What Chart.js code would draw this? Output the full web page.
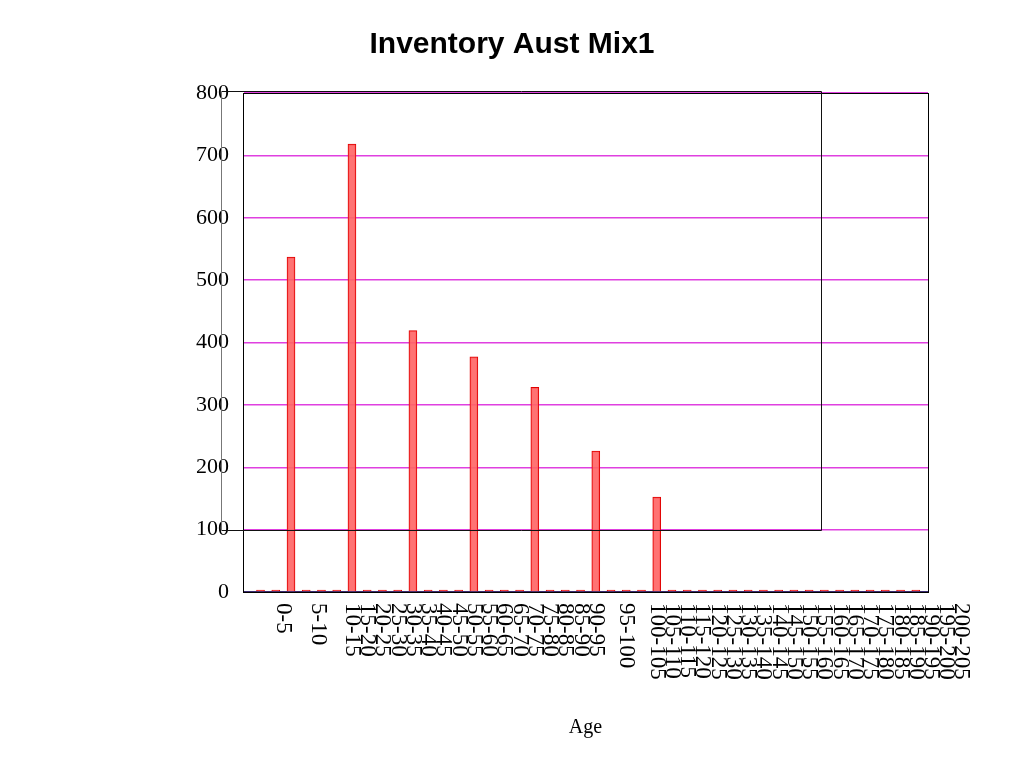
<!DOCTYPE html>
<html>
<head>
<meta charset="utf-8">
<script src="https://cdn.jsdelivr.net/npm/chart.js@4"></script>
<style>
  body { margin: 0; background: #fff; }
  #wrap { width: 1024px; height: 768px; }
</style>
</head>
<body>
<div id="wrap"><canvas id="invChart" width="1024" height="768"></canvas></div>
<script>
// bar positions along the age axis and inventory counts
const barX = [1, 2, 3, 4, 5, 6, 7, 8, 9, 10, 11, 12, 13, 14, 15, 16, 17, 18, 19, 20, 21, 22,
  23, 24, 25, 26, 27, 28, 29, 30, 31, 32, 33, 34, 35, 36, 37, 38, 39, 40, 41, 42, 43, 44];
const counts = [0, 0, 537, 0, 0, 0, 718, 0, 0, 0, 419, 0, 0, 0, 377, 0, 0, 0, 328, 0, 0, 0,
  226, 0, 0, 0, 152, 0, 0, 0, 0, 0, 0, 0, 0, 0, 0, 0, 0, 0, 0, 0, 0, 0];

// age class labels and where gnuplot put them
const ageLabels = ['0-5', '5-10', '10-15', '15-20', '20-25', '25-30', '30-35', '35-40', '40-45',
  '45-50', '50-55', '55-60', '60-65', '65-70', '70-75', '75-80', '80-85', '85-90', '90-95',
  '95-100', '100-105', '105-110', '110-115', '115-120', '120-125', '125-130', '130-135',
  '135-140', '140-145', '145-150', '150-155', '155-160', '160-165', '165-170', '170-175',
  '175-180', '180-185', '185-190', '190-195', '195-200', '200-205'];
const labelPos = [2.5, 4.8, 7, 8, 9, 10, 11, 12, 13, 14, 15, 16, 17, 18, 19, 20, 21, 22, 23,
  25, 27, 28, 29, 30, 31, 32, 33, 34, 35, 36, 37, 38, 39, 40, 41, 42, 43, 44, 45, 46, 47];

const yTicks = [0, 100, 200, 300, 400, 500, 600, 700, 800];

const serif = "'Liberation Serif', 'Times New Roman', serif";

const decor = {
  id: 'decor',
  afterDraw(chart) {
    const ctx = chart.ctx;
    const a = chart.chartArea;
    const xs = chart.scales.x, ys = chart.scales.y;
    ctx.save();
    // plot frame
    ctx.strokeStyle = '#000';
    ctx.lineWidth = 1;
    ctx.strokeRect(Math.round(a.left) + 0.5, Math.round(a.top) + 0.5,
      Math.round(a.right - a.left), Math.round(a.bottom - a.top));
    // stray box left in the picture
    const bx0 = Math.round(xs.getPixelForValue(-1.6)) + 0.5;
    const bx1 = Math.round(xs.getPixelForValue(37.8)) + 0.5;
    const by0 = Math.round(ys.getPixelForValue(803)) + 0.5;
    const by1 = Math.round(ys.getPixelForValue(100)) + 0.5;
    ctx.strokeStyle = '#111';
    ctx.beginPath();
    ctx.moveTo(bx0, by0); ctx.lineTo(bx1, by0); ctx.lineTo(bx1, by1); ctx.lineTo(bx0, by1);
    ctx.stroke();
    ctx.strokeStyle = '#777';
    ctx.beginPath();
    ctx.moveTo(bx0, by0); ctx.lineTo(bx0, by1);
    ctx.stroke();
    // rotated age labels, reading downwards
    ctx.fillStyle = '#000';
    ctx.font = '23px ' + serif;
    ctx.textAlign = 'left';
    ctx.textBaseline = 'middle';
    ageLabels.forEach((lab, i) => {
      const px = xs.getPixelForValue(labelPos[i]);
      ctx.save();
      ctx.translate(px, a.bottom + 11);
      ctx.rotate(Math.PI / 2);
      ctx.fillText(lab, 0, 0);
      ctx.restore();
    });
    ctx.restore();
  }
};

new Chart(document.getElementById('invChart'), {
  type: 'bar',
  data: {
    datasets: [{
      data: barX.map((x, i) => ({ x: x, y: counts[i] })),
      backgroundColor: 'rgba(255, 100, 100, 0.9)',
      borderColor: '#e00000',
      borderWidth: 1,
      barThickness: 8,
      minBarLength: 2
    }]
  },
  options: {
    responsive: false,
    animation: false,
    layout: { padding: { left: 96, right: 96, top: 0, bottom: 0 } },
    plugins: {
      legend: { display: false },
      tooltip: { enabled: false },
      title: {
        display: true,
        text: 'Inventory Aust Mix1',
        color: '#000',
        font: { family: "'Liberation Sans', Arial, sans-serif", size: 30, weight: 'bold' },
        padding: { top: 27, bottom: 30 }
      }
    },
    scales: {
      x: {
        type: 'linear',
        offset: false,
        min: -0.15,
        max: 44.8,
        ticks: { display: false },
        grid: { display: false },
        border: { display: true, color: '#000' },
        title: {
          display: true,
          text: 'Age',
          color: '#000',
          font: { family: serif, size: 20 },
          padding: { top: 0, bottom: 28 }
        },
        afterFit(s) { s.height = 176; }
      },
      y: {
        min: 0,
        max: 800,
        afterBuildTicks(s) { s.ticks = yTicks.map(v => ({ value: v })); },
        ticks: {
          color: '#000',
          font: { family: serif, size: 22 },
          padding: 14
        },
        grid: {
          drawTicks: false,
          lineWidth: 1.5,
          color: ctx => ctx.tick.value === 0 ? '#3a2a70' : '#e040e0'
        },
        border: { display: true, color: '#000' },
        afterFit(s) { s.width = 147; }
      }
    }
  },
  plugins: [decor]
});
</script>
</body>
</html>
